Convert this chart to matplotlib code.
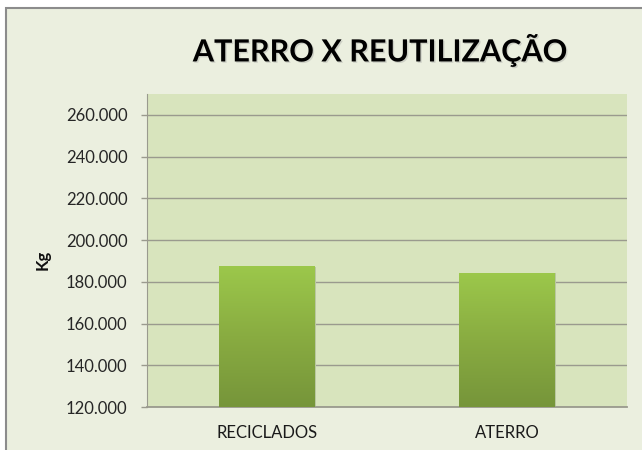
import matplotlib
matplotlib.use("Agg")
import matplotlib.pyplot as plt
import matplotlib.patheffects as pe
from matplotlib.colors import LinearSegmentedColormap
from matplotlib.ticker import FuncFormatter
import numpy as np

categories = ["RECICLADOS", "ATERRO"]
values = [187600, 184400]
yticks = [120000, 140000, 160000, 180000, 200000, 220000, 240000, 260000]

outer_bg = "#EBEFDF"
plot_bg = "#D8E4BD"
grid_col = "#9A9A8E"
bar_cmap = LinearSegmentedColormap.from_list("bar", ["#76953A", "#89AC41", "#9CC84B"])

plt.rcParams['font.family'] = ['Lato', 'DejaVu Sans']

fig = plt.figure(figsize=(6.42, 4.5), dpi=100, facecolor="white")

# outer chart area with grey frame
frame = plt.Rectangle((6 / 642, -0.01), 1.0, (450 - 8) / 450 + 0.01,
                      transform=fig.transFigure, facecolor=outer_bg,
                      edgecolor="#8C8C8C", linewidth=1.5, zorder=-5)
fig.patches.append(frame)

ax = fig.add_axes([147 / 642, 43 / 450, 480 / 642, 313 / 450])
ax.set_facecolor(plot_bg)

x = np.arange(len(categories))
bars = ax.bar(x, values, width=0.4, bottom=0, color="none", zorder=3)
ax.set_xlim(-0.5, len(categories) - 0.5)
ax.set_ylim(120000, 270000)

grad = np.linspace(0, 1, 256).reshape(-1, 1)
for b in bars:
    x0, w = b.get_x(), b.get_width()
    top = b.get_height()
    # soft shadow
    ax.add_patch(plt.Rectangle((x0 + 0.006, 120000), w, top - 120000 - 400,
                               facecolor="#B9C7A0", edgecolor="none", zorder=2))
    im = ax.imshow(grad, cmap=bar_cmap, origin="lower", aspect="auto",
                   extent=(x0, x0 + w, 120000, top), zorder=3)
    im.set_clip_path(b)

ax.set_yticks(yticks)
ax.yaxis.set_major_formatter(FuncFormatter(lambda v, p: f"{v:,.0f}".replace(",", ".")))
ax.yaxis.grid(True, color=grid_col, linewidth=1.0, zorder=1)
ax.set_axisbelow(True)

ax.set_xticks(x)
ax.set_xticklabels(categories)
ax.tick_params(axis="x", length=0, pad=13, labelsize=12, labelcolor="#1A1A1A")
ax.tick_params(axis="y", length=4, width=1, color=grid_col, pad=10,
               labelsize=12, labelcolor="#262626")

for s in ["top", "right"]:
    ax.spines[s].set_visible(False)
ax.spines["left"].set_color(grid_col)
ax.spines["bottom"].set_color(grid_col)
ax.spines["bottom"].set_linewidth(1.3)

ax.set_ylabel("Kg", fontsize=12, fontweight="bold", color="#111111")
ax.yaxis.set_label_coords(-0.2, 0.47)

fig.text(380 / 642, 1 - 50 / 450, "ATERRO X REUTILIZAÇÃO", ha="center", va="center",
         fontsize=22, fontweight="bold", color="black",
         path_effects=[pe.withSimplePatchShadow(offset=(1, -1),
                                                 shadow_rgbFace="#999999", alpha=0.35)])

fig.savefig("out.png", dpi=100, facecolor=fig.get_facecolor())
